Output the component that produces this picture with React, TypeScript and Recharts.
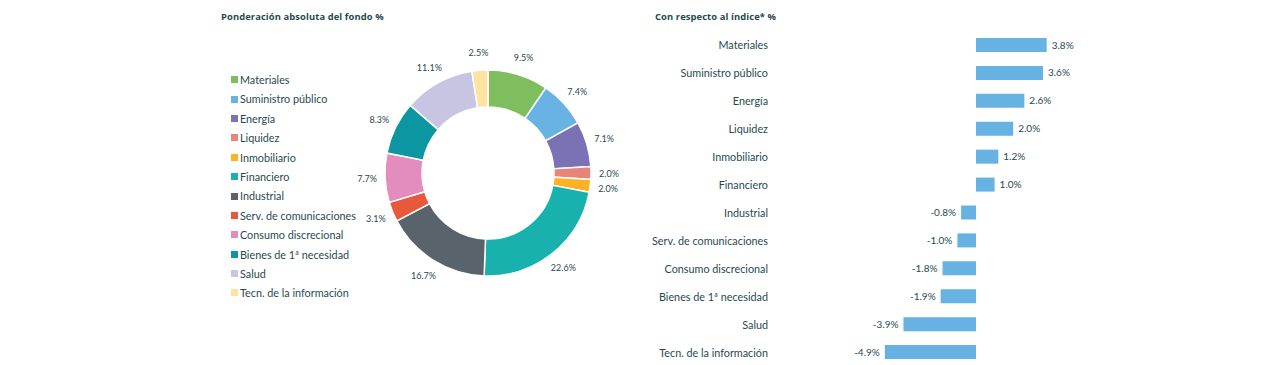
import { PieChart, Pie, Cell, Legend, BarChart, Bar, XAxis, YAxis, LabelList } from "recharts";

// Sectors, in the order the donut draws them (clockwise from 12 o'clock)
const sectors = [
  "Materiales",
  "Suministro público",
  "Energía",
  "Liquidez",
  "Inmobiliario",
  "Financiero",
  "Industrial",
  "Serv. de comunicaciones",
  "Consumo discrecional",
  "Bienes de 1ª necesidad",
  "Salud",
  "Tecn. de la información",
];

const fundWeights = [9.5, 7.4, 7.1, 2.0, 2.0, 22.6, 16.7, 3.1, 7.7, 8.3, 11.1, 2.5];

const sectorColors = [
  "#7fbe5e",
  "#69b3e4",
  "#7b72b6",
  "#e8857a",
  "#fbb324",
  "#19b1ad",
  "#58636b",
  "#e8583a",
  "#e38dbf",
  "#0b96a1",
  "#c8c5e2",
  "#fde2a0",
];

const vsIndex = [3.8, 3.6, 2.6, 2.0, 1.2, 1.0, -0.8, -1.0, -1.8, -1.9, -3.9, -4.9];

const TEXT = "#1f4a50";
const FONT = "Lato, 'Open Sans', sans-serif";
const RADIAN = Math.PI / 180;

const pieData = sectors.map((name, i) => ({ name, value: fundWeights[i] }));
const barData = sectors.map((name, i) => ({ name, value: vsIndex[i] }));

const renderPieLabel = (props: any) => {
  const { cx, cy, midAngle, value } = props;
  const r = 121;
  const x = cx + r * Math.cos(-midAngle * RADIAN);
  const y = cy + r * Math.sin(-midAngle * RADIAN);
  return (
    <text x={x} y={y} textAnchor="middle" dominantBaseline="central" fontSize={9} fill={TEXT} fontFamily={FONT}>
      {`${value.toFixed(1)}%`}
    </text>
  );
};

const renderLegend = (props: any) => {
  const items = props.payload || [];
  return (
    <div style={{ fontFamily: FONT, fontSize: 10.8, color: TEXT }}>
      {items.map((it: any) => (
        <div key={it.value} style={{ height: 19.4, lineHeight: "19.4px", display: "flex", alignItems: "center" }}>
          <span style={{ width: 7, height: 7, background: it.color, display: "inline-block", marginRight: 2 }} />
          {it.value}
        </div>
      ))}
    </div>
  );
};

const CategoryTick = (props: any) => {
  const { y, payload } = props;
  return (
    <text x={128} y={y} textAnchor="end" dominantBaseline="central" fontSize={10.8} fill={TEXT} fontFamily={FONT}>
      {payload.value}
    </text>
  );
};

const titleStyle = {
  position: "absolute" as const,
  top: 10,
  fontSize: 9.4,
  lineHeight: "14px",
  fontWeight: 700,
  color: TEXT,
  fontFamily: "'Open Sans', Lato, sans-serif",
  letterSpacing: 0.1,
};

export default function App() {
  return (
    <div
      style={{
        position: "absolute",
        left: 0,
        top: 0,
        width: 1280,
        height: 365,
        overflow: "hidden",
        background: "#fff",
        fontFamily: FONT,
      }}
    >
      <div style={{ ...titleStyle, left: 221 }}>Ponderación absoluta del fondo %</div>
      <div style={{ ...titleStyle, left: 655 }}>Con respecto al índice* %</div>

      <div style={{ position: "absolute", left: 0, top: 0 }}>
        <PieChart width={640} height={365} margin={{ top: 0, right: 0, bottom: 0, left: 0 }}>
          <Pie
            data={pieData}
            dataKey="value"
            nameKey="name"
            cx={488}
            cy={173}
            innerRadius={66}
            outerRadius={103}
            startAngle={90}
            endAngle={-270}
            stroke="#fff"
            strokeWidth={1.5}
            label={renderPieLabel}
            labelLine={false}
            isAnimationActive={false}
          >
            {pieData.map((d, i) => (
              <Cell key={d.name} fill={sectorColors[i]} />
            ))}
          </Pie>
          <Legend
            layout="vertical"
            content={renderLegend}
            itemSorter={(item: any) => sectors.indexOf(item.value)}
            wrapperStyle={{ left: 231, top: 70, width: 160, bottom: "auto" }}
          />
        </PieChart>
      </div>

      <div style={{ position: "absolute", left: 640, top: 0 }}>
        <BarChart
          width={640}
          height={366}
          data={barData}
          layout="vertical"
          margin={{ top: 31, right: 229.6, bottom: 0, left: 0 }}
        >
          <XAxis type="number" domain={[-5, 4]} hide />
          <YAxis
            type="category"
            dataKey="name"
            width={243}
            axisLine={false}
            tickLine={false}
            tick={<CategoryTick />}
            interval={0}
          />
          <Bar dataKey="value" fill="#66b2e3" barSize={14} isAnimationActive={false}>
            <LabelList
              dataKey="value"
              position="right"
              offset={5}
              formatter={(v: any) => `${Number(v).toFixed(1)}%`}
              style={{ fontSize: 10, fill: TEXT, fontFamily: FONT }}
            />
          </Bar>
        </BarChart>
      </div>
    </div>
  );
}
